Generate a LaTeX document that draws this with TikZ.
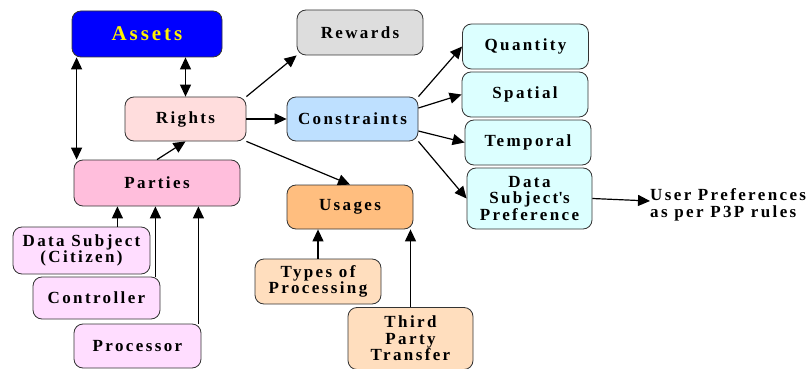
\documentclass[tikz,border=0pt]{standalone}
\usepackage{fontspec}
\setmainfont{Liberation Serif}[LetterSpace=14]
\usetikzlibrary{positioning,arrows.meta}
\definecolor{rightsfill}{RGB}{255,221,221}
\definecolor{consfill}{RGB}{190,224,255}
\definecolor{subfill}{RGB}{220,255,255}
\definecolor{partyfill}{RGB}{255,190,220}
\definecolor{actorfill}{RGB}{255,221,255}
\definecolor{usefill}{RGB}{255,190,127}
\definecolor{usesubfill}{RGB}{255,222,190}
\definecolor{rewfill}{RGB}{221,221,221}
\tikzset{>={Triangle[length=12pt,width=11pt]}}
\tikzset{box/.style={draw=black!80,line width=0.8pt,rounded corners=9pt,minimum width=126pt,minimum height=45pt,
  align=center,inner sep=1pt,font=\fontsize{17}{16.5}\selectfont\bfseries},
  link/.style={line width=1.2pt}}

\begin{document}
\begin{tikzpicture}[x=1pt,y=-1pt]
\useasboundingbox (0,0) rectangle (809,369);
\node[box,fill=blue,text=yellow,minimum width=150pt,minimum height=46pt,font=\fontsize{21}{20}\selectfont\bfseries] (assets) at (147,34) {Assets};
\node[box,fill=rewfill] (rewards) at (360,32.5) {Rewards};
\node[box,fill=rightsfill,minimum width=121pt,minimum height=44pt] (rights) at (185.5,119) {Rights};
\node[box,fill=consfill,minimum width=131pt,minimum height=44pt] (constraints) at (352.5,119) {Constraints};
\node[box,fill=subfill] (quantity) at (525.5,46.5) {Quantity};
\node[box,fill=subfill] (spatial) at (525,94.5) {Spatial};
\node[box,fill=subfill] (temporal) at (528,142.5) {Temporal};
\node[box,fill=subfill,minimum width=125pt,minimum height=61pt] (dsp) at (529.5,198.5) {Data\\Subject\textquotesingle s\\Preference};
\node[anchor=west,align=left,font=\fontsize{17}{16.5}\selectfont\bfseries,inner sep=0pt] (up) at (650,205) {User Preferences\\as per P3P rules};
\node[box,fill=partyfill,minimum width=166pt,minimum height=46pt] (parties) at (157,183) {Parties};
\node[box,fill=usefill,minimum height=44pt] (usages) at (350,207) {Usages};
\node[box,fill=actorfill,minimum width=137pt,minimum height=47pt] (dsubj) at (81.5,250.5) {Data Subject\\(Citizen)};
\node[box,fill=actorfill,minimum width=127pt,minimum height=42pt] (controller) at (96.5,298) {Controller};
\node[box,fill=actorfill,minimum width=127pt,minimum height=44pt] (processor) at (137.5,346) {Processor};
\node[box,fill=usesubfill] (types) at (318,281.5) {Types of\\Processing};
\node[box,fill=usesubfill,minimum width=125pt,minimum height=62pt] (third) at (410.5,338.5) {Third\\Party\\Transfer};

\draw[link,<->] ([xshift=5pt]assets.south west) -- ([xshift=5pt]assets.south west |- parties.north);
\draw[link,<->] (assets.south -| rights.north) -- (rights.north);
\draw[link,->] (parties.north) -- (rights.south);
\draw[link,->] (rights.north east) -- (rewards.south west);
\draw[link,->] (rights.east) -- (constraints.west);
\draw[link,->] (rights.south east) -- (usages.north);
\draw[link,->] (constraints.north east) -- (quantity.west);
\draw[link,->] ([yshift=11pt]constraints.east) -- (spatial.west);
\draw[link,->] ([yshift=-12pt]constraints.east) -- (temporal.west);
\draw[link,->] (constraints.south east) -- (dsp.west);
\draw[link,->] (dsp.east) -- ([yshift=4pt]up.west);
\draw[link,->] ([xshift=-33pt]dsubj.north east) -- ([xshift=-33pt]dsubj.north east |- parties.south);
\draw[link,->] ([xshift=-5pt]controller.north east) -- ([xshift=-5pt]controller.north east |- parties.south);
\draw[link,->] ([xshift=-3pt]processor.north east) -- ([xshift=-3pt]processor.north east |- parties.south);
\draw[link,->] (types.north) -- (types.north |- usages.south);
\draw[link,->] (third.north) -- (third.north |- usages.south);
\end{tikzpicture}
\end{document}
